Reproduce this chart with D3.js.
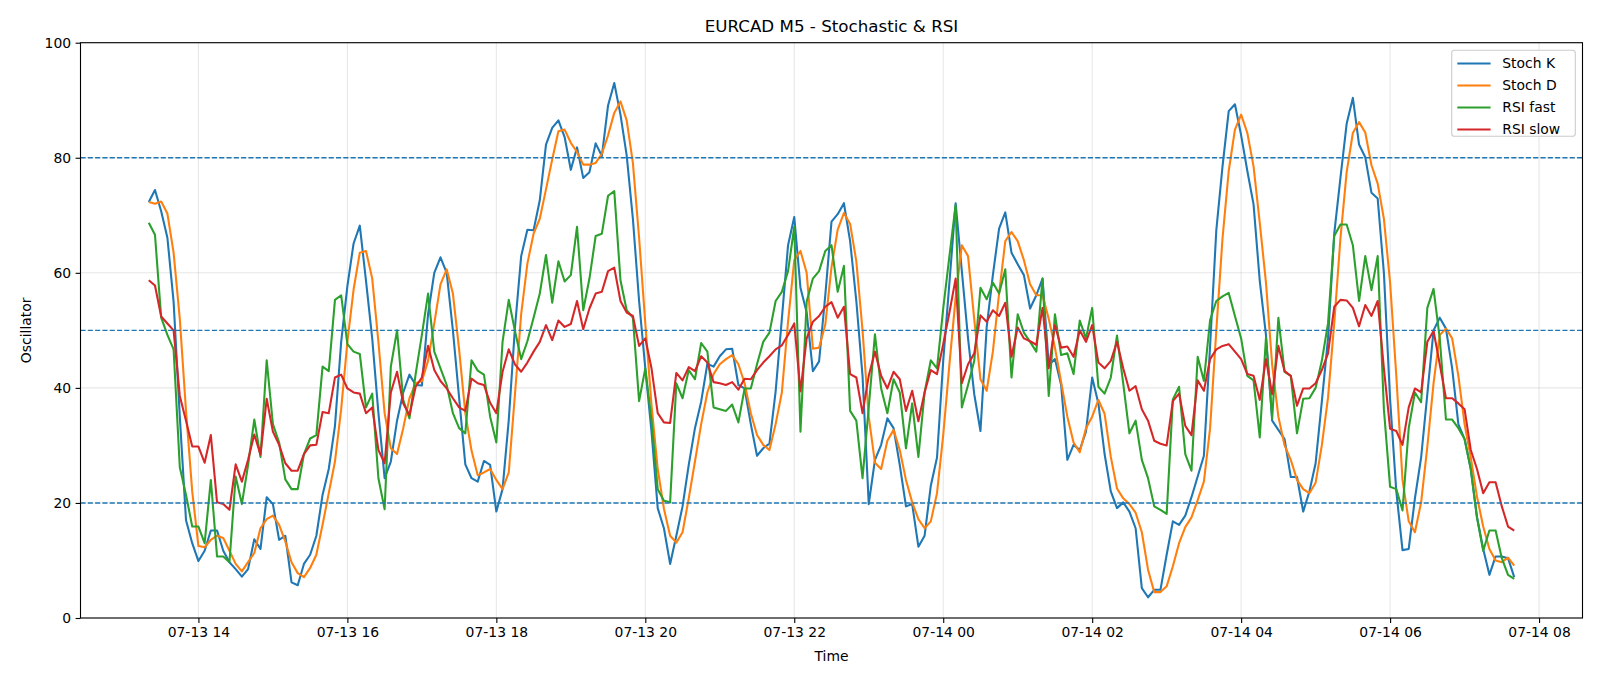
<!DOCTYPE html>
<html>
<head>
<meta charset="utf-8">
<script src="https://cdn.jsdelivr.net/npm/d3@7"></script>
<style>
  html, body { margin: 0; padding: 0; background: #ffffff; }
  svg { display: block; font-family: "DejaVu Sans", sans-serif; }
</style>
</head>
<body>
<svg id="chart" width="1600" height="686"></svg>
<script>
// ---------------- data ----------------
const chartTitle = "EURCAD M5 - Stochastic & RSI";
const startTime = "2024-07-13T13:20:00Z";
const stepMinutes = 5;

const tickLabels = ["07-13 14", "07-13 16", "07-13 18", "07-13 20", "07-13 22",
                    "07-14 00", "07-14 02", "07-14 04", "07-14 06", "07-14 08"];
const yTicks = [0, 20, 40, 60, 80, 100];
const levelLines = [80, 50, 20];

const stochK = [
  72.3, 74.4, 70.7, 66.1, 55, 35, 17, 13, 9.9, 11.7,
  15.2, 15.2, 11.7, 9.7, 8.5, 7.2, 8.5, 13.7, 12, 21,
  19.8, 13.6, 14.3, 6.2, 5.7, 9.4, 11, 14.3, 21.4, 25.9,
  33.4, 48, 57.7, 65.1, 68.2, 58.6, 48.6, 35.6, 24.3, 27.2,
  34.3, 39.2, 42.3, 40.5, 40.4, 52.8, 60, 62.7, 60, 50,
  38.3, 26.7, 24.3, 23.7, 27.3, 26.6, 18.5, 22.4, 34.4, 50.5,
  62.9, 67.5, 67.4, 72.6, 82.3, 85.2, 86.5, 83.6, 77.9, 81.8,
  76.5, 77.5, 82.5, 80.3, 89.1, 93, 87.5, 80.4, 69.4, 55.1,
  43.4, 32.4, 19.1, 15.6, 9.4, 14.3, 19.4, 26.6, 33, 37.6,
  44.2, 43.7, 45.5, 46.7, 46.8, 40.5, 39.9, 33.7, 28.2, 29.5,
  30.3, 39.4, 52, 64.8, 69.7, 57.4, 53.1, 42.9, 44.6, 56.1,
  68.9, 70.2, 72.1, 65.5, 55.1, 42.1, 19.8, 27.5, 30.1, 34.7,
  33, 26.6, 19.4, 19.8, 12.4, 14.3, 23, 27.9, 44.7, 58.3,
  72.1, 60.3, 48.6, 38.9, 32.5, 50.5, 59.6, 67.7, 70.5, 63.5,
  61.5, 59.6, 53.8, 56.1, 59, 44, 45, 40.5, 27.5, 30.1,
  29.2, 32.4, 41.8, 37.3, 28.5, 22, 19.1, 20.1, 18.5, 15.6,
  5.2, 3.6, 4.9, 4.9, 11, 16.8, 16.2, 17.8, 21, 24.6,
  28.2, 47.3, 67.4, 78.5, 88.1, 89.3, 83.9, 77.7, 71.9, 58.6,
  49.2, 34.3, 32.7, 31.1, 24.5, 24.5, 18.5, 22, 26.9, 37.6,
  48.6, 66.8, 76.5, 85.9, 90.4, 82.3, 80.1, 73.9, 72.9, 60,
  38, 22, 11.8, 12, 20.8, 27.9, 38.9, 50, 52.2, 50.3,
  43.4, 33.7, 31.1, 25.9, 17.5, 12, 7.5, 10.7, 10.7, 10.4,
  7.1
];

const stochD = [
  72.3, 72, 72.4, 70.3, 63.5, 52, 36, 22, 12.5, 12.3,
  13.6, 14.3, 13.9, 11.7, 9.4, 8.1, 9.7, 11.3, 15.6, 17.2,
  17.8, 16.2, 13.3, 9.7, 7.8, 7.1, 8.7, 11, 16.2, 21.7,
  27.2, 36.3, 48, 57.1, 63.5, 63.8, 59, 48, 35.6, 29.5,
  28.5, 33, 38.2, 40.8, 41.2, 44.7, 51.2, 58, 60.6, 56.4,
  46.7, 35.6, 29.1, 24.8, 25.3, 25.9, 24, 22.4, 25.3, 38.9,
  52.8, 61.6, 66.8, 69.4, 74.5, 79.7, 84.6, 84.9, 82.6, 81,
  78.8, 78.8, 79.1, 80.7, 83.9, 87.8, 89.8, 86.5, 79.1, 66.1,
  51.2, 37, 25.9, 19, 14.3, 13.1, 14.9, 20.8, 27.2, 33.7,
  39.2, 42.4, 44.1, 45, 45.7, 44.1, 40.8, 35.6, 31.8, 30.1,
  29.2, 33.7, 39.2, 51.5, 62.2, 63.8, 60, 46.8, 47, 51,
  61, 67.5, 70.4, 68.5, 62, 50, 35, 27, 25.9, 30.8,
  32.7, 29.2, 24, 20.1, 17.2, 15.6, 16.8, 21.7, 31.8, 44.1,
  55.7, 64.8, 62.9, 51.9, 41.5, 39.5, 46.3, 56.4, 65.5, 67.1,
  65.5, 62.2, 58, 56.1, 56.1, 52, 47, 41, 35, 30.5,
  28.8, 33, 35, 37.9, 35.5, 28, 22.5, 20.8, 19.8, 18.3,
  14.9, 8.4, 4.5, 4.5, 5.5, 9, 13, 15.8, 17.5, 20.5,
  23.7, 33, 50, 66, 77.7, 84.9, 87.5, 84.3, 78.5, 68.7,
  58.3, 44, 35, 30, 27.5, 24, 22.4, 21.7, 23.5, 30,
  38.3, 51.2, 66, 77.5, 84.3, 86.2, 84.4, 78.7, 75.5, 69.4,
  58.3, 42.1, 24, 16.8, 14.9, 20.1, 29.8, 40.8, 49.2, 50.3,
  48.6, 42.1, 33.7, 27.9, 21.1, 15.9, 12, 10, 9.7, 10.5,
  9.1
];

const rsiFast = [
  68.7, 66.6, 52.2, 49.2, 46.7, 26.2, 21.4, 15.9, 15.9, 13,
  24, 10.7, 10.7, 9.7, 24.6, 19.8, 26.6, 34.5, 28, 44.8,
  33.7, 30.5, 24.1, 22.4, 22.4, 28.5, 31.2, 31.8, 43.7, 42.9,
  55.3, 56.1, 47.6, 46.3, 45.9, 36.6, 39, 24.3, 18.9, 43.7,
  50, 37.9, 34.7, 42.4, 49.2, 56.4, 46.3, 43.4, 40.5, 35.6,
  33, 32.1, 44.8, 43, 42.3, 35, 30.5, 48, 55.3, 49.9,
  45, 48.1, 52.2, 56.4, 63.1, 54.8, 62, 58.5, 59.6, 68,
  53.5, 59, 66.4, 66.8, 73.4, 74.2, 58.7, 53.5, 52.2, 37.7,
  43.4, 34.4, 22.4, 20.4, 20.1, 40.8, 38.2, 43.1, 41.5, 47.8,
  46.3, 36.6, 36.3, 36, 37.1, 34, 39.9, 39.9, 44.1, 48,
  49.6, 55.1, 56.7, 60.3, 68, 32.4, 55, 59, 60.3, 63.8,
  64.8, 56.7, 61.2, 36, 34.3, 24.3, 36.6, 49.3, 39.9, 35.6,
  41.5, 39.2, 29.5, 37.3, 28, 39.2, 44.8, 43.4, 53.8, 62.9,
  71.8, 36.6, 40.5, 44.7, 57.4, 55.4, 58.3, 56.4, 60.6, 41.8,
  52.8, 49.6, 48, 46.3, 59, 38.6, 52.8, 45.7, 46, 42.4,
  51.7, 48.6, 53.9, 40.2, 39, 41.8, 49.1, 40.8, 32.1, 34.3,
  27.5, 24.3, 19.4, 18.8, 18.1, 38, 40.2, 28.5, 25.6, 45.4,
  41.2, 51.8, 55.1, 55.9, 56.5, 52.5, 48.6, 42.1, 41.3, 31.4,
  48.7, 34.7, 52.2, 42.8, 42.1, 32.1, 38.1, 38.2, 40, 44.7,
  51.2, 66.4, 68.4, 68.4, 64.8, 55.1, 62.9, 57, 62.9, 36.3,
  22.8, 22.4, 18.7, 33, 39.2, 37.5, 53.9, 57.2, 48.6, 34.5,
  34.5, 33, 31.1, 25.9, 17.5, 11.7, 15.2, 15.2, 10.4, 7.5,
  6.8
];

const rsiSlow = [
  58.7, 57.8, 52.4, 51.2, 50, 38.6, 34.3, 29.8, 29.8, 27,
  31.8, 20.1, 19.8, 18.8, 26.7, 23.7, 27.5, 31.9, 28.4, 38.1,
  32.4, 30.1, 26.9, 25.6, 25.6, 28.5, 30, 30.1, 35.8, 35.6,
  41.8, 42.3, 39.9, 39.2, 39, 35.6, 36.6, 29.2, 26.9, 39.2,
  42.8, 37.3, 35.3, 40.2, 41.8, 47.3, 43.1, 41.2, 39.9, 38.2,
  36.6, 36, 41.6, 40.8, 40.5, 37.4, 35.6, 42.8, 46.7, 44.1,
  42.8, 44.4, 46.3, 48, 50.9, 48.3, 51.7, 50.6, 51.1, 55.1,
  50.2, 53.8, 56.4, 56.7, 60.3, 60.9, 55.1, 53.1, 52.5, 47.3,
  48.6, 43.4, 35.6, 34, 33.9, 42.6, 41.3, 43.6, 42.9, 45.5,
  44.4, 41, 40.8, 40.5, 41, 39.7, 41.6, 41.5, 43.1, 44.4,
  45.5, 46.7, 47.4, 49.2, 51.2, 39.4, 48.6, 51.5, 52.5, 54.1,
  54.9, 52.2, 54.1, 42.4, 41.8, 35.6, 42.1, 46.3, 42.1, 39.9,
  42.8, 41.5, 36, 39.5, 34.2, 39.2, 43.1, 42.4, 47.6, 53.1,
  59, 40.8, 44.1, 46, 52.6, 51.5, 53.5, 52.5, 54.8, 45.4,
  50.5, 48.6, 48.1, 47.5, 53.9, 43.4, 50.9, 47, 47.2, 45.4,
  50, 48, 50.9, 44.4, 43.4, 44.7, 48, 43.4, 39.5, 40.3,
  36.3, 34.3, 30.8, 30.3, 30, 37.7, 39, 33.4, 31.8, 41.3,
  39.5, 45, 46.7, 47.3, 47.6, 46.3, 45, 42.4, 42.1, 37.9,
  45, 38.9, 47.3, 42.9, 42.1, 36.9, 39.9, 39.9, 40.8, 43.1,
  46, 54.1, 55.3, 55.2, 53.9, 50.7, 54.4, 52.5, 55.1, 43.4,
  32.9, 32.5, 30.1, 36.6, 39.9, 39.2, 48, 49.9, 44.1, 38.2,
  38.2, 37.3, 36.3, 29.2, 25.9, 21.7, 23.6, 23.6, 19.4, 15.9,
  15.2
];

const seriesNames = ["Stoch K", "Stoch D", "RSI fast", "RSI slow"];
const seriesValues = [stochK, stochD, rsiFast, rsiSlow];
const seriesColors = ["#1f77b4", "#ff7f0e", "#2ca02c", "#d62728"];

// ---------------- layout ----------------
const W = 1600, H = 686;
const L = 80.5, R = 1582.5, T = 42.7, B = 618;

const t0 = new Date(startTime);
const times = stochK.map((_, i) => new Date(t0.getTime() + i * stepMinutes * 60000));
const tFirst = times[0].getTime(), tLast = times[times.length - 1].getTime();
const pad = 0.05 * (tLast - tFirst);

const x = d3.scaleUtc().domain([new Date(tFirst - pad), new Date(tLast + pad)]).range([L, R]);
const y = d3.scaleLinear().domain([0, 100]).range([B, T]);

const parseTick = d3.utcParse("%Y-%m-%d %H");
const tickDates = tickLabels.map(s => parseTick("2024-" + s));
const fmt = d3.utcFormat("%m-%d %H");

const svg = d3.select("#chart");
svg.append("rect").attr("width", W).attr("height", H).attr("fill", "#ffffff");

// grid
const grid = svg.append("g");
grid.selectAll("line.gx").data(tickDates).enter().append("line")
  .attr("x1", d => x(d)).attr("x2", d => x(d)).attr("y1", T).attr("y2", B)
  .attr("stroke", "#b0b0b0").attr("stroke-opacity", 0.3).attr("stroke-width", 1.1);
grid.selectAll("line.gy").data(yTicks).enter().append("line")
  .attr("x1", L).attr("x2", R).attr("y1", d => y(d)).attr("y2", d => y(d))
  .attr("stroke", "#b0b0b0").attr("stroke-opacity", 0.3).attr("stroke-width", 1.1);

// series
const line = d3.line().x((d, i) => x(times[i])).y(d => y(d));
seriesValues.forEach((vals, k) => {
  svg.append("path").datum(vals)
    .attr("d", line)
    .attr("fill", "none")
    .attr("stroke", seriesColors[k])
    .attr("stroke-width", 2.08)
    .attr("stroke-linejoin", "round")
    .attr("stroke-linecap", "butt");
});

// level lines
svg.selectAll("line.lvl").data(levelLines).enter().append("line")
  .attr("x1", L).attr("x2", R).attr("y1", d => y(d)).attr("y2", d => y(d))
  .attr("stroke", "#1f77b4").attr("stroke-width", 1.39)
  .attr("stroke-dasharray", "5.1,2.2");

// axes
const xAxis = d3.axisBottom(x).tickValues(tickDates).tickFormat(fmt).tickSize(4.9).tickPadding(4.5);
const gx = svg.append("g").attr("transform", `translate(0,${B})`).call(xAxis);
const yAxis = d3.axisLeft(y).tickValues(yTicks).tickSize(4.9).tickPadding(4.5);
const gy = svg.append("g").attr("transform", `translate(${L},0)`).call(yAxis);
[gx, gy].forEach(g => {
  g.select(".domain").remove();
  g.selectAll(".tick line").attr("stroke", "#000").attr("stroke-width", 1.1);
  g.selectAll(".tick text").attr("fill", "#000").attr("font-size", "13.9px")
    .attr("font-family", "DejaVu Sans, sans-serif");
});

// spines
svg.append("rect").attr("x", L).attr("y", T).attr("width", R - L).attr("height", B - T)
  .attr("fill", "none").attr("stroke", "#000").attr("stroke-width", 1.1);

// title & labels
svg.append("text").attr("x", (L + R) / 2).attr("y", 32).attr("text-anchor", "middle")
  .attr("font-size", "16.7px").attr("fill", "#000").text(chartTitle);
svg.append("text").attr("x", (L + R) / 2).attr("y", 661).attr("text-anchor", "middle")
  .attr("font-size", "13.9px").attr("fill", "#000").text("Time");
svg.append("text").attr("transform", `translate(31,${(T + B) / 2}) rotate(-90)`)
  .attr("text-anchor", "middle").attr("font-size", "13.9px").attr("fill", "#000").text("Oscillator");

// legend
const lg = svg.append("g");
const lx = 1451.7, ly = 50.2, lw = 123.6, lh = 86;
lg.append("rect").attr("x", lx).attr("y", ly).attr("width", lw).attr("height", lh)
  .attr("rx", 2.8).attr("fill", "#ffffff").attr("fill-opacity", 0.8)
  .attr("stroke", "#cccccc").attr("stroke-width", 1.1);
seriesNames.forEach((name, k) => {
  const cy = 63.5 + k * 22;
  lg.append("line").attr("x1", lx + 5.6).attr("x2", lx + 38.9).attr("y1", cy).attr("y2", cy)
    .attr("stroke", seriesColors[k]).attr("stroke-width", 2.08);
  lg.append("text").attr("x", lx + 50.6).attr("y", cy).attr("dy", "0.35em")
    .attr("font-size", "13.9px").attr("fill", "#000").text(name);
});
</script>
</body>
</html>
